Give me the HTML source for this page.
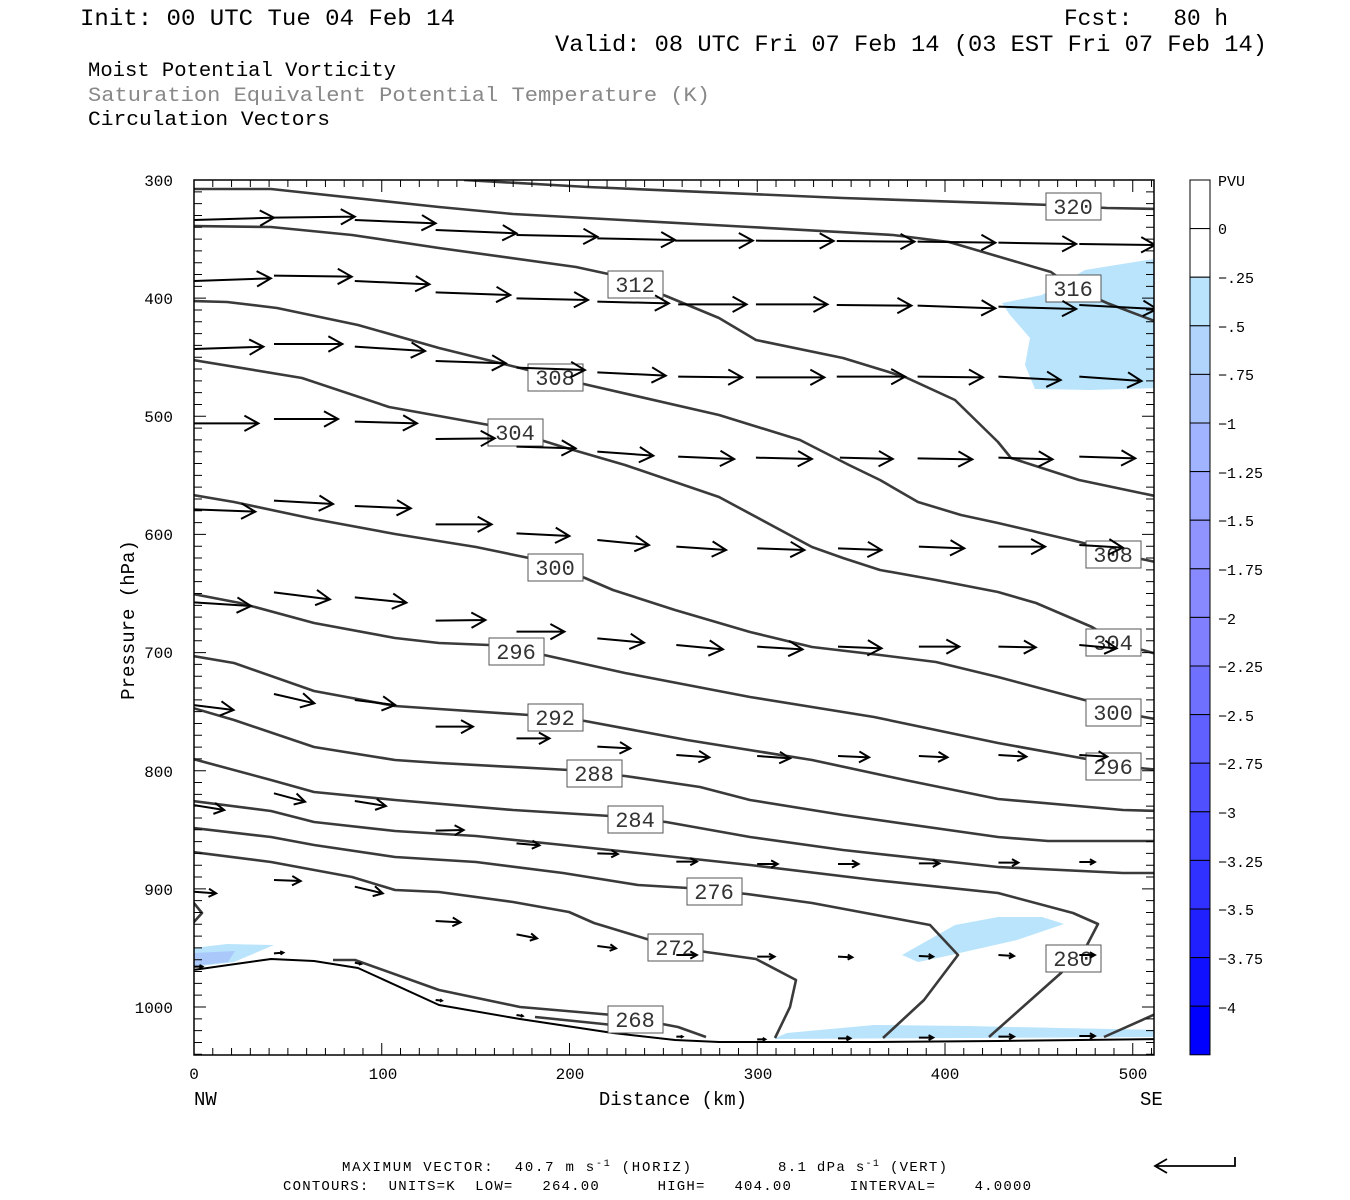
<!DOCTYPE html>
<html><head><meta charset="utf-8"><style>
html,body{margin:0;padding:0;background:#fff;width:1350px;height:1200px;overflow:hidden}
svg{display:block}
text{font-family:"Liberation Mono",monospace;white-space:pre}
</style></head><body>
<svg id="s" width="1350" height="1200" viewBox="0 0 1350 1200" xmlns="http://www.w3.org/2000/svg">
<defs><clipPath id="cp"><rect x="194" y="180" width="960" height="875"/></clipPath></defs>
<rect width="1350" height="1200" fill="#fff"/>
<g font-size="23.5" fill="#000">
<text x="80" y="25" textLength="375" lengthAdjust="spacingAndGlyphs">Init: 00 UTC Tue 04 Feb 14</text>
<text x="1064" y="25" textLength="164" lengthAdjust="spacingAndGlyphs">Fcst:   80 h</text>
<text x="555" y="51" textLength="712" lengthAdjust="spacingAndGlyphs">Valid: 08 UTC Fri 07 Feb 14 (03 EST Fri 07 Feb 14)</text>
</g>
<g font-size="20.5">
<text x="88" y="76" fill="#000" textLength="308" lengthAdjust="spacingAndGlyphs">Moist Potential Vorticity</text>
<text x="88" y="101" fill="#888" textLength="622" lengthAdjust="spacingAndGlyphs">Saturation Equivalent Potential Temperature (K)</text>
<text x="88" y="125" fill="#000" textLength="242" lengthAdjust="spacingAndGlyphs">Circulation Vectors</text>
</g>
<g id="fill" clip-path="url(#cp)">
<polygon fill="#b9e4fc" points="1002,303 1042,295 1085,270 1160,258 1160,388 1090,390 1035,389 1025,365 1030,338 1010,315"/>
<polygon fill="#b9e4fc" points="193,948 227,944 274,945 234,962 193,967"/>
<polygon fill="#aac8fa" points="193,953 235,951 228,962 193,966"/>
<polygon fill="#b9e4fc" points="902,955 955,925 998,917 1042,917 1064,924 1017,940 942,957 918,962"/>
<polygon fill="#b9e4fc" points="775,1038 787,1033 874,1025 967,1026 1061,1028 1160,1030 1160,1037 775,1039"/>
</g>
<g id="cont" clip-path="url(#cp)" fill="none" stroke="#3a3a3a" stroke-width="2.6" stroke-linejoin="round"></g>
<g id="labs" font-size="22" fill="#333" text-anchor="middle"></g>
<g id="arr" clip-path="url(#cp)" fill="none" stroke="#000" stroke-width="2"></g>
<rect x="194" y="180" width="960" height="875" fill="none" stroke="#000" stroke-width="1.5"/>
<g id="ticks" stroke="#000" stroke-width="1"></g>
<g font-size="16" fill="#000" text-anchor="end">
<text x="173" y="186">300</text><text x="173" y="304">400</text><text x="173" y="422">500</text>
<text x="173" y="540">600</text><text x="173" y="658">700</text><text x="173" y="777">800</text>
<text x="173" y="895">900</text><text x="173" y="1013">1000</text>
</g>
<g font-size="16" fill="#000" text-anchor="middle">
<text x="194" y="1079">0</text><text x="383" y="1079">100</text><text x="570" y="1079">200</text>
<text x="758" y="1079">300</text><text x="945" y="1079">400</text><text x="1133" y="1079">500</text>
</g>
<text x="194" y="1105" font-size="19">NW</text>
<text x="1140" y="1105" font-size="19">SE</text>
<text x="673" y="1105" font-size="19" text-anchor="middle">Distance (km)</text>
<text transform="translate(134,620) rotate(-90)" font-size="19" text-anchor="middle">Pressure (hPa)</text>
<g id="cbar"></g>
<g font-size="15" fill="#000">
<text x="1218" y="186">PVU</text><text x="1218" y="234">0</text><text x="1218" y="283">−.25</text>
<text x="1218" y="332">−.5</text><text x="1218" y="380">−.75</text><text x="1218" y="429">−1</text>
<text x="1218" y="478">−1.25</text><text x="1218" y="526">−1.5</text><text x="1218" y="575">−1.75</text>
<text x="1218" y="624">−2</text><text x="1218" y="672">−2.25</text><text x="1218" y="721">−2.5</text>
<text x="1218" y="769">−2.75</text><text x="1218" y="818">−3</text><text x="1218" y="867">−3.25</text>
<text x="1218" y="915">−3.5</text><text x="1218" y="964">−3.75</text><text x="1218" y="1013">−4</text>
</g>
<g font-size="14" fill="#000">
<text x="342" y="1171" textLength="349" lengthAdjust="spacing">MAXIMUM VECTOR:  40.7 m s<tspan dy="-5" font-size="10">-1</tspan><tspan dy="5"> (HORIZ)</tspan></text>
<text x="778" y="1171" textLength="169" lengthAdjust="spacing">8.1 dPa s<tspan dy="-5" font-size="10">-1</tspan><tspan dy="5"> (VERT)</tspan></text>
<text x="283" y="1190" textLength="748" lengthAdjust="spacing">CONTOURS:  UNITS=K  LOW=   264.00      HIGH=   404.00      INTERVAL=    4.0000</text>
</g>
<g stroke="#000" stroke-width="1.8" fill="none">
<path d="M1155,1166 L1235,1166 L1235,1157"/>
<path d="M1167,1159 L1155,1166 L1167,1173"/>
</g>
</svg>
<script>
var NS="http://www.w3.org/2000/svg";
function el(p,n,a){var e=document.createElementNS(NS,n);for(var k in a)e.setAttribute(k,a[k]);p.appendChild(e);return e;}
var C=document.getElementById('cont');
var lines=[
[[464,180],[588,187],[843,198],[1051,205],[1107,208],[1160,209]],
[[193,189],[271,189],[439,207],[513,214],[750,227],[893,235],[949,242],[1051,272],[1073,288],[1107,303],[1160,323]],
[[193,226],[271,227],[352,235],[439,248],[576,267],[613,275],[635,284],[666,296],[719,318],[756,340],[843,358],[905,377],[955,400],[998,442],[1011,458],[1079,480],[1160,497]],
[[193,301],[227,302],[277,308],[358,325],[439,348],[520,368],[555,377],[588,385],[719,415],[800,440],[849,465],[880,480],[918,502],[961,515],[998,523],[1092,545],[1118,554],[1160,563]],
[[193,360],[302,378],[389,407],[489,425],[515,432],[563,447],[625,465],[719,497],[812,547],[843,558],[880,570],[936,580],[998,592],[1036,603],[1092,627],[1118,643],[1160,655]],
[[193,495],[234,502],[314,519],[395,534],[476,547],[529,558],[557,567],[585,578],[613,590],[675,610],[750,632],[812,647],[880,655],[936,662],[998,677],[1092,702],[1118,712],[1160,720]],
[[193,594],[240,603],[314,623],[395,638],[439,643],[489,645],[516,651],[544,655],[625,673],[750,697],[874,717],[998,743],[1092,760],[1118,766],[1160,770]],
[[193,656],[234,663],[314,691],[395,706],[439,709],[529,715],[557,717],[585,721],[687,740],[812,760],[905,780],[998,799],[1123,810],[1160,811]],
[[193,708],[234,720],[314,747],[395,760],[439,763],[569,770],[596,773],[625,776],[700,787],[750,800],[843,815],[998,837],[1048,841],[1160,841]],
[[193,759],[271,780],[314,792],[395,800],[513,810],[610,816],[637,819],[666,822],[750,837],[843,850],[998,867],[1123,873],[1160,873]],
[[193,801],[271,811],[314,822],[395,831],[476,836],[563,845],[638,853],[750,865],[874,880],[998,893],[1073,913],[1098,924],[1086,947],[1061,973],[989,1037]],
[[193,828],[271,837],[314,845],[395,857],[476,862],[563,873],[638,885],[688,888],[717,891],[747,894],[812,903],[930,925],[958,955],[924,1000],[883,1038]],
[[193,852],[271,862],[352,877],[395,890],[439,892],[513,902],[569,912],[594,923],[650,940],[677,947],[706,952],[756,959],[796,980],[790,1007],[775,1038]],
[[333,960],[355,960],[439,990],[520,1007],[613,1015],[636,1019],[678,1027],[706,1037]],
[[535,1017],[613,1025]],
[[193,902],[202,913],[193,923]],
[[1104,1037],[1160,1012]]
];
lines.forEach(function(l){el(C,'polyline',{points:l.map(function(p){return p.join(',')}).join(' ')});});
el(C,'polyline',{points:"193,970 271,959 314,961 358,968 439,1005 520,1019 613,1033 675,1040 719,1042 874,1042 998,1041 1160,1039",stroke:"#000","stroke-width":"2"});
var L=document.getElementById('labs');
var labs=[[320,1073,206],[316,1073,288],[312,635,284],[308,555,377],[304,515,432],[300,555,567],[308,1113,554],[296,516,651],[304,1113,642],[292,555,717],[300,1113,712],[288,594,773],[296,1113,766],[284,635,819],[276,714,891],[280,1073,958],[272,675,947],[268,635,1019]];
labs.forEach(function(b){el(L,'rect',{x:b[1]-27,y:b[2]-13,width:55,height:27,fill:'#fff',stroke:'#555','stroke-width':1});
var t=el(L,'text',{x:b[1],y:b[2]+8});t.textContent=b[0];});
var A=document.getElementById('arr');
function zx(x){return 190+x/1.608;}
var rows=[
[175,[[5,135,135,128],[135,128,265,125],[265,135,395,145],[395,165,525,175],[525,180,655,185],[655,190,780,195],[780,197,905,197],[910,197,1035,198],[1040,198,1165,200],[1170,200,1295,203],[1300,203,1425,207],[1430,207,1552,210]]],
[175,[[5,318,130,310],[135,302,260,305],[265,318,385,328],[395,352,515,360],[525,370,640,375],[655,380,770,385],[785,388,895,388],[910,388,1025,388],[1040,390,1160,392],[1170,392,1295,400],[1300,395,1425,402],[1430,390,1555,402]]],
[175,[[5,522,118,515],[135,507,245,507],[265,515,378,528],[395,558,508,565],[525,578,635,585],[655,592,765,602],[785,605,888,607],[910,607,1020,607],[1040,605,1150,605],[1170,605,1275,607],[1300,605,1400,615],[1430,605,1530,618]]],
[175,[[5,745,110,745],[135,732,238,732],[265,740,365,745],[395,792,490,790],[525,815,620,820],[655,830,745,842],[785,845,875,852],[910,848,1000,852],[1045,848,1130,852],[1170,850,1258,853],[1300,848,1387,853],[1430,845,1520,850]]],
[480,[[5,88,105,95],[135,62,230,72],[265,78,355,85],[395,133,485,133],[525,160,610,168],[655,180,738,195],[782,200,862,210],[912,205,988,210],[1042,205,1112,210],[1172,200,1245,205],[1300,200,1375,200],[1430,195,1500,203]]],
[480,[[5,367,98,378],[135,337,225,358],[265,352,348,368],[395,422,475,420],[525,455,602,455],[655,475,730,488],[782,495,857,508],[912,500,985,508],[1042,500,1112,505],[1172,500,1237,500],[1300,500,1360,502],[1430,495,1490,505]]],
[480,[[5,675,70,690],[135,642,200,670],[265,660,330,675],[395,740,455,740],[525,775,578,775],[655,800,708,805],[782,825,835,832],[912,828,965,835],[1042,828,1092,832],[1172,828,1218,832],[1300,825,1345,830],[1430,825,1475,830]]],
[740,[[5,195,55,210],[135,160,185,185],[265,183,315,198],[395,272,440,270],[525,310,562,316],[655,340,688,342],[782,365,815,365],[912,372,945,372],[1042,372,1075,372],[1172,370,1205,370],[1300,368,1332,368],[1430,366,1455,366]]],
[740,[[5,455,42,460],[135,420,178,423],[265,440,310,460],[395,543,435,547],[525,583,558,595],[655,618,685,625],[782,645,815,645],[912,650,940,650],[1042,650,1065,652],[1172,648,1195,650],[1300,645,1325,648],[1430,645,1455,645]]],
[740,[[5,680,20,680],[135,640,150,638],[265,668,275,672],[395,780,405,782],[525,825,535,828],[782,890,792,890],[912,898,925,898],[1042,895,1062,895],[1172,893,1195,893],[1300,890,1325,890],[1430,888,1455,888]]]
];
rows.forEach(function(r){var b=r[0];r[1].forEach(function(a){
var x1=zx(a[0]),y1=b+a[1]/3,x2=zx(a[2]),y2=b+a[3]/3;
var dx=x2-x1,dy=y2-y1,len=Math.sqrt(dx*dx+dy*dy),ux=dx/len,uy=dy/len;
var h=Math.min(14,len*0.32),w=h*0.55;
var hx=x2-ux*h,hy=y2-uy*h;
el(A,'path',{d:'M'+x1+','+y1+'L'+x2+','+y2+'M'+(hx-uy*w)+','+(hy+ux*w)+'L'+x2+','+y2+'L'+(hx+uy*w)+','+(hy-ux*w)});
});});
var T=document.getElementById('ticks'),d='';
for(var p=300;p<=1040;p+=10){var y=180+(p-300)*827/700;var m=(p%100==0)?12:8;d+='M194,'+y+'h'+m+'M1154,'+y+'h-'+m;}
for(var k=0;k<=510;k+=10){var x=194+k*1.8775;var m=(k%100==0)?12:7;d+='M'+x+',1055v-'+m+'M'+x+',180v'+m;}
el(T,'path',{d:d});
var cols=['#fff','#fff','#b9e4fc','#b0d4fb','#a8c4fb','#a0b4ff','#98a4ff','#9094ff','#8888ff','#8080ff','#7070ff','#6060ff','#5050ff','#4040ff','#3030ff','#2020ff','#1010ff','#0000ff'];
var CB=document.getElementById('cbar');
cols.forEach(function(c,i){el(CB,'rect',{x:1190,y:180+i*48.6,width:20,height:48.6,fill:c,stroke:'#000','stroke-width':1});});
</script>
</body></html>
